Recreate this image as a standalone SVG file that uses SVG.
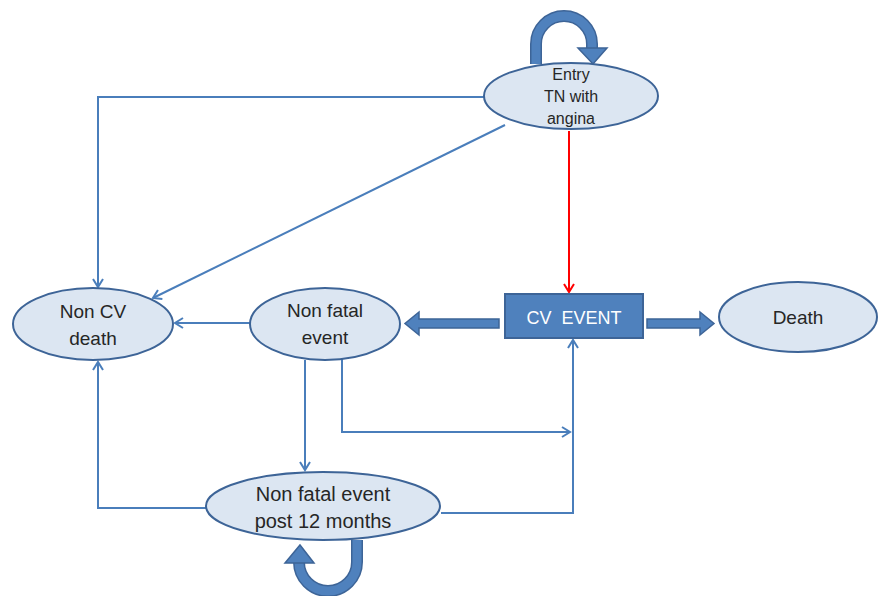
<svg xmlns="http://www.w3.org/2000/svg" width="881" height="596" viewBox="0 0 881 596">
<style>
.node{fill:#DCE6F2;stroke:#3D6497;stroke-width:2}
.lbl{font-family:"Liberation Sans",Arial,sans-serif;fill:#262626;text-anchor:middle}
.con{fill:none;stroke:#4A7EBB;stroke-width:2}
.red{fill:none;stroke:#FF0000;stroke-width:2}
.thick{fill:#4F81BD;stroke:#3D6497;stroke-width:1.5}
.loop-o{fill:none;stroke:#3D6497;stroke-width:12}
.loop-i{fill:none;stroke:#4F81BD;stroke-width:9}
</style>
<defs>
<marker id="ab" markerUnits="userSpaceOnUse" markerWidth="14" markerHeight="14" refX="9" refY="6" orient="auto">
<path d="M1,1 L9,6 L1,11" fill="none" stroke="#4A7EBB" stroke-width="2"/>
</marker>
<marker id="ar" markerUnits="userSpaceOnUse" markerWidth="14" markerHeight="14" refX="9" refY="6" orient="auto">
<path d="M1,1 L9,6 L1,11" fill="none" stroke="#FF0000" stroke-width="2"/>
</marker>
</defs>
<rect width="881" height="596" fill="#FFFFFF"/>
<g id="connectors">
<path class="con" d="M485 97 H98 V287" marker-end="url(#ab)"/>
<path class="con" d="M505 125 L153 298" marker-end="url(#ab)"/>
<path class="red" d="M569 131 V292" marker-end="url(#ar)"/>
<path class="con" d="M250 323 H175" marker-end="url(#ab)"/>
<path class="con" d="M305 360 V470" marker-end="url(#ab)"/>
<path class="con" d="M342 358 V432 H570" marker-end="url(#ab)"/>
<path class="con" d="M441 513 H573 V340" marker-end="url(#ab)"/>
<path class="con" d="M207 508 H98 V362" marker-end="url(#ab)"/>
<polygon class="thick" points="499,319 419,319 419,312 405,323.5 419,335 419,328 499,328"/>
<polygon class="thick" points="647,319 700,319 700,312 714,323.5 700,335 700,328 647,328"/>
</g>
<g id="loop-entry">
<path class="loop-o" d="M536 64 L536 44 A28 28 0 0 1 592 44 L592 50"/>
<path class="loop-i" d="M536 64 L536 44 A28 28 0 0 1 592 44 L592 50"/>
<polygon points="578,48 607,48 593,64" fill="#4F81BD" stroke="#3D6497" stroke-width="1.5"/>
</g>
<g id="entry">
<ellipse class="node" cx="571" cy="96" rx="87" ry="33"/>
<text class="lbl" font-size="16" x="571" y="80">Entry</text>
<text class="lbl" font-size="16" x="571" y="102">TN with</text>
<text class="lbl" font-size="16" x="571" y="124">angina</text>
</g>
<g id="noncv">
<ellipse class="node" cx="93" cy="324" rx="80" ry="36"/>
<text class="lbl" font-size="19" x="93" y="318">Non CV</text>
<text class="lbl" font-size="19" x="93" y="345">death</text>
</g>
<g id="nonfatal">
<ellipse class="node" cx="325" cy="324" rx="75" ry="36"/>
<text class="lbl" font-size="19" x="325" y="317">Non fatal</text>
<text class="lbl" font-size="19" x="325" y="344">event</text>
</g>
<g id="cvevent">
<rect x="505" y="294" width="138" height="44" fill="#4F81BD" stroke="#3D6497" stroke-width="2"/>
<text class="lbl" font-size="18" x="574" y="324" fill="#FFFFFF" style="fill:#FFFFFF" xml:space="preserve">CV  EVENT</text>
</g>
<g id="death">
<ellipse class="node" cx="798" cy="317" rx="79" ry="35"/>
<text class="lbl" font-size="19" x="798" y="324">Death</text>
</g>
<g id="loop-post">
<path class="loop-o" d="M357 540 L357 562 A29 29 0 0 1 299 562 L299 560"/>
<path class="loop-i" d="M357 540 L357 562 A29 29 0 0 1 299 562 L299 560"/>
<polygon points="285,563 314,563 300,545" fill="#4F81BD" stroke="#3D6497" stroke-width="1.5"/>
</g>
<g id="post12">
<ellipse class="node" cx="323" cy="506" rx="117" ry="34"/>
<text class="lbl" font-size="20" x="323" y="501">Non fatal event</text>
<text class="lbl" font-size="20" x="323" y="528">post 12 months</text>
</g>
</svg>
